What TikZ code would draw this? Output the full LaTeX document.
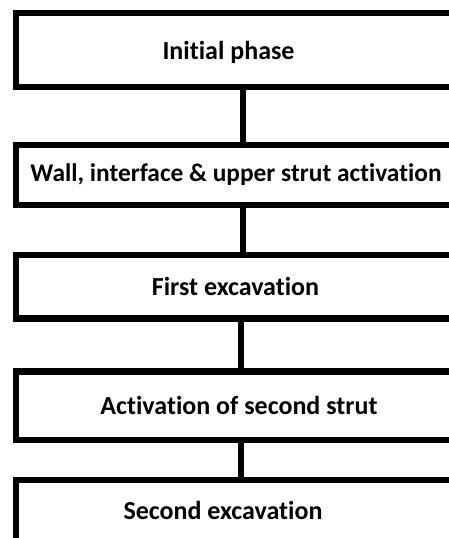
\documentclass[tikz,border=0pt]{standalone}
\usepackage{fontspec}
\setmainfont[Ligatures={NoCommon,NoRequired,NoContextual}]{Carlito}
\begin{document}
\begin{tikzpicture}[x=1pt,y=-1pt]
\tikzset{
  stage/.style={draw=black, line width=6.5pt, rectangle, inner sep=0pt,
    minimum width=454pt, fill=white},
  caption/.style={font=\bfseries\fontsize{26}{31}\selectfont, inner sep=0pt},
  link/.style={draw=black, line width=6pt}
}
\useasboundingbox (0,0) rectangle (449,538);
\begin{scope}
\clip (0,0) rectangle (449,538);
% stage boxes (they run past the right and bottom edges)
\node[stage, minimum height=74pt,
  label={[caption,xshift=-14.5pt,yshift=-2.5pt]center:Initial phase}] (b1) at (243,50) {};
\node[stage, minimum height=60pt,
  label={[caption,font=\bfseries\fontsize{25.4}{30}\selectfont,xshift=-7pt]center:Wall, interface \& upper strut activation}] (b2) at (243,175) {};
\node[stage, minimum height=63.5pt,
  label={[caption,xshift=-7.5pt]center:First excavation}] (b3) at (243,286.75) {};
\node[stage, minimum height=68.5pt,
  label={[caption,xshift=-4pt]center:Activation of second strut}] (b4) at (243,405.75) {};
\node[stage, minimum height=65pt,
  label={[caption,xshift=-20pt,yshift=2.5pt]center:Second excavation}] (b5) at (243,512.5) {};
% links between consecutive stages
\draw[link] (b1.south) -- (b2.north);
\draw[link] (b2.south) -- (b3.north);
\draw[link] ([xshift=-2.5pt]b3.south) -- ([xshift=-2.5pt]b4.north);
\draw[link] ([xshift=-2.5pt]b4.south) -- ([xshift=-2.5pt]b5.north);
\end{scope}
\end{tikzpicture}
\end{document}
